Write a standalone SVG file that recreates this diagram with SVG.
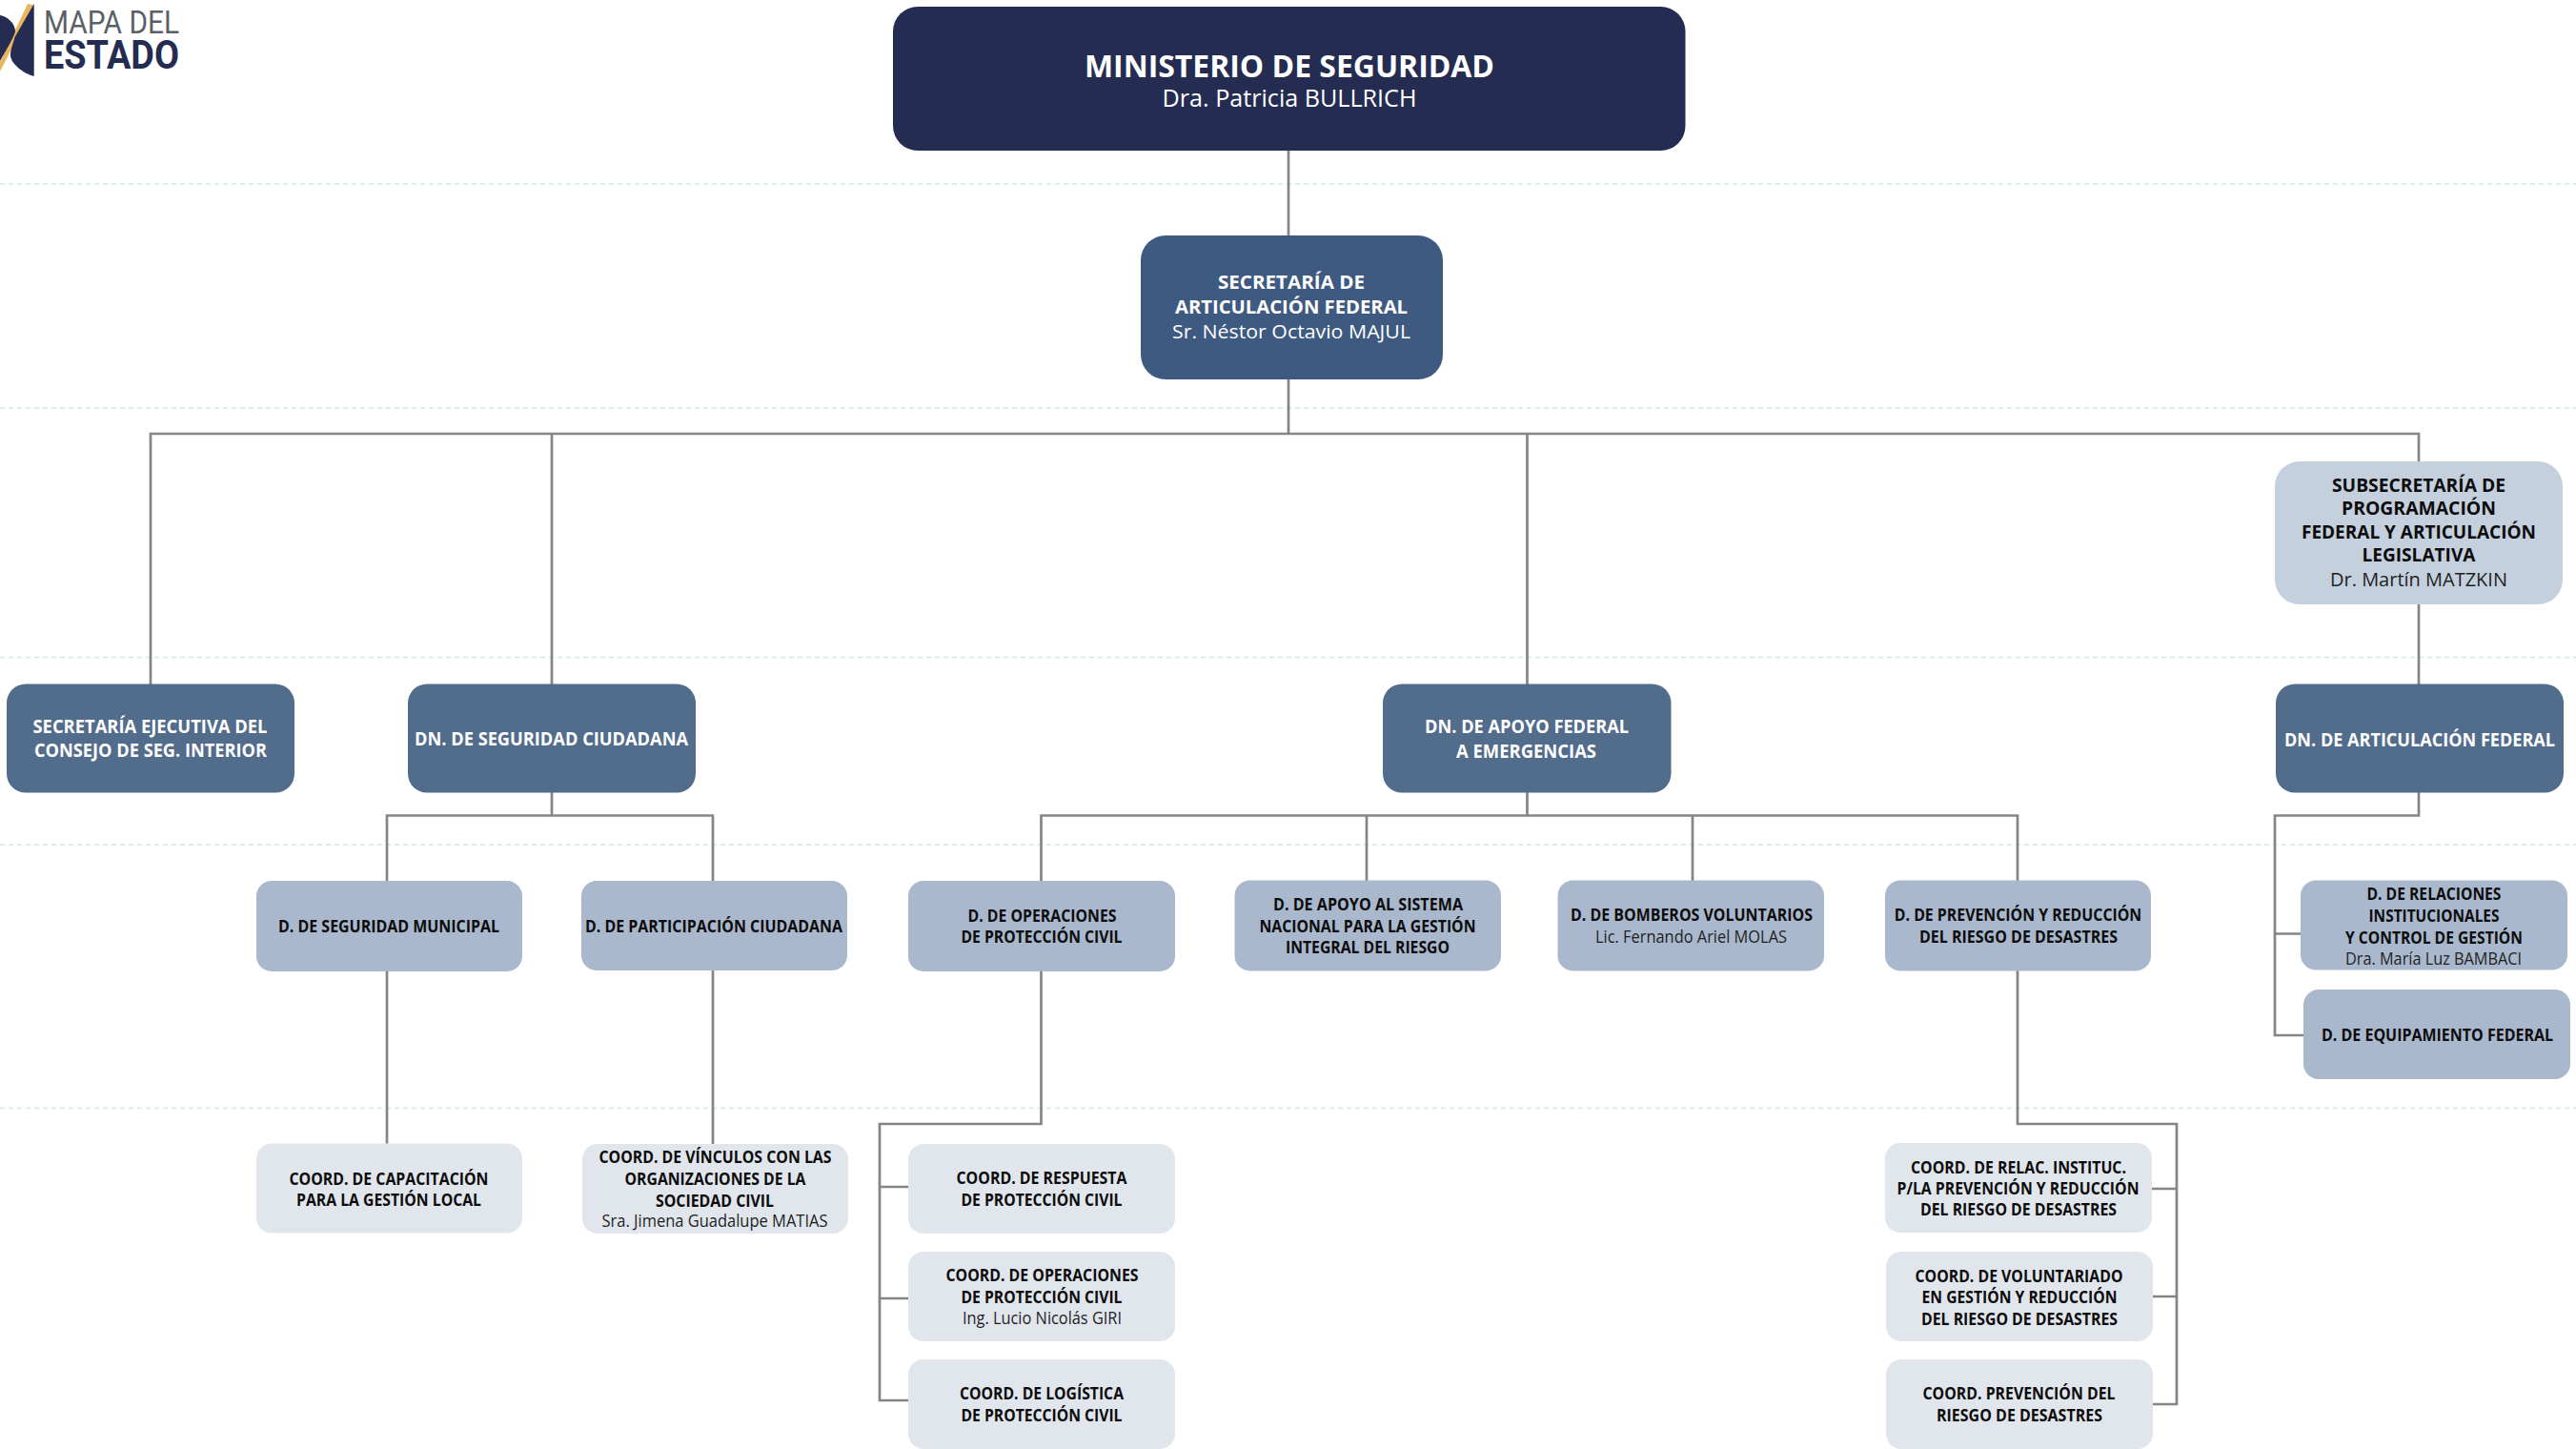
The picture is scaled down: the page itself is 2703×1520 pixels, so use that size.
<svg xmlns="http://www.w3.org/2000/svg" width="2703" height="1520" viewBox="0 0 2703 1520">
<style>
text{font-family:"Open Sans","Liberation Sans",sans-serif;text-anchor:middle}
.b{font-weight:700}
.lg{font-family:Roboto,"Liberation Sans",sans-serif;text-anchor:start}
.w{fill:#fff}.k{fill:#0c0c0c}.g{fill:#1f1f1f}
.s20{font-size:20px}.s18{font-size:18px}.s17{font-size:17.500px}
.guide{stroke:#cbeaea;stroke-width:1.5;stroke-dasharray:5 4;fill:none}
#connectors path{fill:none;stroke:#858585;stroke-width:2.700}
.n1{fill:#242c51}.n2{fill:#3e5a80}.n3{fill:#526c8c}.n4{fill:#a9b8cc}.n5{fill:#e1e6ed}.n6{fill:#c5d0de}
</style>
<rect width="2703" height="1520" fill="#fff"/>
<g id="guides">
<path class="guide" d="M0 193H2703M0 428H2703M0 689.500H2703M0 886H2703M0 1162.500H2703"/>
</g>
<g id="logo">
<path d="M29 4L35.700 5.500L0 75V65Z" fill="#e9b65e"/>
<path d="M35.700 4V80C24 77 11 66 11 58C11 52 13 48 15.500 39Z" fill="#242c51"/>
<path d="M0 16C8 17 16 25 16 33C15 38 8 50 0 64Z" fill="#242c51"/>
<text class="lg" x="46" y="35" font-size="33" fill="#5a5f68" textLength="142" lengthAdjust="spacingAndGlyphs">MAPA DEL</text>
<text class="lg" x="46" y="72" font-size="42" font-weight="700" fill="#242c51" textLength="142" lengthAdjust="spacingAndGlyphs">ESTADO</text>
</g>
<g id="connectors">
<path d="M1352 158V247M1352 398V454"/>
<path d="M158 718V455H2538V484M579 455V718M1602.500 455V718M2538 634V718"/>
<path d="M579 831V855.500M406 924V855.500H749M748 855.500V924"/>
<path d="M406 1019V1200M748 1018V1200"/>
<path d="M1602.500 831V855.500M1092.500 924V855.500H2117V924M1434 855.500V924M1776 855.500V924"/>
<path d="M1092.500 1019V1179H923V1469H953M923 1245H953M923 1362H953"/>
<path d="M2117 1018V1179H2284V1473H2259M2258 1247H2284M2259 1360H2284"/>
<path d="M2538 831V855.500H2387V1086H2417M2387 979.500H2414"/>
</g>
<g id="n-ministerio"><rect class="n1" x="937" y="7" width="831.500" height="151" rx="26"/>
<text class="w b" x="1353" y="81" font-size="33" textLength="430" lengthAdjust="spacingAndGlyphs">MINISTERIO DE SEGURIDAD</text>
<text class="w" x="1353" y="112" font-size="25" textLength="267" lengthAdjust="spacingAndGlyphs">Dra. Patricia BULLRICH</text></g>
<g id="n-secretaria"><rect class="n2" x="1197" y="247" width="317" height="151" rx="26"/>
<text class="w b s20" x="1355" y="303" textLength="154" lengthAdjust="spacingAndGlyphs">SECRETARÍA DE</text>
<text class="w b s20" x="1355" y="329" textLength="244" lengthAdjust="spacingAndGlyphs">ARTICULACIÓN FEDERAL</text>
<text class="w s20" x="1355" y="355" textLength="250" lengthAdjust="spacingAndGlyphs">Sr. Néstor Octavio MAJUL</text></g>
<g id="n-subsecretaria"><rect class="n6" x="2387" y="484" width="302" height="150" rx="26"/>
<text class="k b s20" x="2538" y="516" textLength="182" lengthAdjust="spacingAndGlyphs">SUBSECRETARÍA DE</text>
<text class="k b s20" x="2538" y="540" textLength="162" lengthAdjust="spacingAndGlyphs">PROGRAMACIÓN</text>
<text class="k b s20" x="2538" y="565" textLength="246" lengthAdjust="spacingAndGlyphs">FEDERAL Y ARTICULACIÓN</text>
<text class="k b s20" x="2538" y="589" textLength="119" lengthAdjust="spacingAndGlyphs">LEGISLATIVA</text>
<text class="g s20" x="2538" y="614.500" textLength="186" lengthAdjust="spacingAndGlyphs">Dr. Martín MATZKIN</text></g>
<g id="n-sec-ejecutiva"><rect class="n3" x="7" y="717.500" width="302" height="114" rx="20"/>
<text class="w b s20" x="157.500" y="769" textLength="246" lengthAdjust="spacingAndGlyphs">SECRETARÍA EJECUTIVA DEL</text>
<text class="w b s20" x="158" y="794" textLength="244" lengthAdjust="spacingAndGlyphs">CONSEJO DE SEG. INTERIOR</text></g>
<g id="n-dn-seguridad"><rect class="n3" x="428" y="717.500" width="302" height="114" rx="20"/>
<text class="w b s20" x="578.500" y="782" textLength="287" lengthAdjust="spacingAndGlyphs">DN. DE SEGURIDAD CIUDADANA</text></g>
<g id="n-dn-apoyo"><rect class="n3" x="1451" y="717.500" width="302.500" height="114" rx="20"/>
<text class="w b s20" x="1602" y="769" textLength="214" lengthAdjust="spacingAndGlyphs">DN. DE APOYO FEDERAL</text>
<text class="w b s20" x="1601.500" y="795" textLength="147" lengthAdjust="spacingAndGlyphs">A EMERGENCIAS</text></g>
<g id="n-dn-articulacion"><rect class="n3" x="2388" y="717.500" width="302" height="114" rx="20"/>
<text class="w b s20" x="2539" y="782.500" textLength="284" lengthAdjust="spacingAndGlyphs">DN. DE ARTICULACIÓN FEDERAL</text></g>
<g id="n-d-municipal"><rect class="n4" x="269" y="924" width="279" height="95" rx="16"/>
<text class="k b s17" x="408" y="978" textLength="232" lengthAdjust="spacingAndGlyphs">D. DE SEGURIDAD MUNICIPAL</text></g>
<g id="n-d-participacion"><rect class="n4" x="610" y="924" width="279" height="94" rx="16"/>
<text class="k b s17" x="749" y="978" textLength="270" lengthAdjust="spacingAndGlyphs">D. DE PARTICIPACIÓN CIUDADANA</text></g>
<g id="n-d-operaciones"><rect class="n4" x="953" y="924" width="280" height="95" rx="16"/>
<text class="k b s17" x="1093.500" y="967" textLength="156" lengthAdjust="spacingAndGlyphs">D. DE OPERACIONES</text>
<text class="k b s17" x="1093" y="989" textLength="169" lengthAdjust="spacingAndGlyphs">DE PROTECCIÓN CIVIL</text></g>
<g id="n-d-sistema"><rect class="n4" x="1295.500" y="923.500" width="279.500" height="95" rx="16"/>
<text class="k b s17" x="1435.500" y="955" textLength="199" lengthAdjust="spacingAndGlyphs">D. DE APOYO AL SISTEMA</text>
<text class="k b s17" x="1435" y="978" textLength="227" lengthAdjust="spacingAndGlyphs">NACIONAL PARA LA GESTIÓN</text>
<text class="k b s17" x="1435" y="1000" textLength="172" lengthAdjust="spacingAndGlyphs">INTEGRAL DEL RIESGO</text></g>
<g id="n-d-bomberos"><rect class="n4" x="1634.500" y="923.500" width="279.500" height="95" rx="16"/>
<text class="k b s17" x="1775" y="966" textLength="254" lengthAdjust="spacingAndGlyphs">D. DE BOMBEROS VOLUNTARIOS</text>
<text class="g s18" x="1774.500" y="989" textLength="201" lengthAdjust="spacingAndGlyphs">Lic. Fernando Ariel MOLAS</text></g>
<g id="n-d-prevencion"><rect class="n4" x="1978" y="923.500" width="279" height="95" rx="16"/>
<text class="k b s17" x="2117.500" y="966" textLength="259.500" lengthAdjust="spacingAndGlyphs">D. DE PREVENCIÓN Y REDUCCIÓN</text>
<text class="k b s17" x="2118" y="989" textLength="208" lengthAdjust="spacingAndGlyphs">DEL RIESGO DE DESASTRES</text></g>
<g id="n-d-relaciones"><rect class="n4" x="2414" y="923.500" width="280" height="94" rx="16"/>
<text class="k b s17" x="2554" y="944" textLength="141" lengthAdjust="spacingAndGlyphs">D. DE RELACIONES</text>
<text class="k b s17" x="2554" y="966.500" textLength="137" lengthAdjust="spacingAndGlyphs">INSTITUCIONALES</text>
<text class="k b s17" x="2554" y="989.500" textLength="186" lengthAdjust="spacingAndGlyphs">Y CONTROL DE GESTIÓN</text>
<text class="g s17" x="2553.500" y="1011.500" textLength="185" lengthAdjust="spacingAndGlyphs">Dra. María Luz BAMBACI</text></g>
<g id="n-d-equipamiento"><rect class="n4" x="2417" y="1038" width="280" height="94" rx="16"/>
<text class="k b s17" x="2557.500" y="1092" textLength="243" lengthAdjust="spacingAndGlyphs">D. DE EQUIPAMIENTO FEDERAL</text></g>
<g id="n-c-capacitacion"><rect class="n5" x="269" y="1199.500" width="279" height="94" rx="16"/>
<text class="k b s17" x="408" y="1243" textLength="209" lengthAdjust="spacingAndGlyphs">COORD. DE CAPACITACIÓN</text>
<text class="k b s17" x="408" y="1264.500" textLength="194" lengthAdjust="spacingAndGlyphs">PARA LA GESTIÓN LOCAL</text></g>
<g id="n-c-vinculos"><rect class="n5" x="611" y="1200" width="279" height="94" rx="16"/>
<text class="k b s17" x="750.500" y="1220" textLength="244" lengthAdjust="spacingAndGlyphs">COORD. DE VÍNCULOS CON LAS</text>
<text class="k b s17" x="750.500" y="1243" textLength="190" lengthAdjust="spacingAndGlyphs">ORGANIZACIONES DE LA</text>
<text class="k b s17" x="750" y="1265.500" textLength="124" lengthAdjust="spacingAndGlyphs">SOCIEDAD CIVIL</text>
<text class="g s17" x="750" y="1287" textLength="237" lengthAdjust="spacingAndGlyphs">Sra. Jimena Guadalupe MATIAS</text></g>
<g id="n-c-respuesta"><rect class="n5" x="953" y="1200" width="280" height="94" rx="16"/>
<text class="k b s17" x="1093" y="1242" textLength="179" lengthAdjust="spacingAndGlyphs">COORD. DE RESPUESTA</text>
<text class="k b s17" x="1093" y="1265" textLength="169" lengthAdjust="spacingAndGlyphs">DE PROTECCIÓN CIVIL</text></g>
<g id="n-c-operaciones"><rect class="n5" x="953" y="1313" width="280" height="94" rx="16"/>
<text class="k b s17" x="1093.500" y="1344" textLength="202" lengthAdjust="spacingAndGlyphs">COORD. DE OPERACIONES</text>
<text class="k b s17" x="1093" y="1367" textLength="169" lengthAdjust="spacingAndGlyphs">DE PROTECCIÓN CIVIL</text>
<text class="g s18" x="1093.500" y="1389" textLength="167" lengthAdjust="spacingAndGlyphs">Ing. Lucio Nicolás GIRI</text></g>
<g id="n-c-logistica"><rect class="n5" x="953" y="1426" width="280" height="94" rx="16"/>
<text class="k b s17" x="1093" y="1468" textLength="172" lengthAdjust="spacingAndGlyphs">COORD. DE LOGÍSTICA</text>
<text class="k b s17" x="1093" y="1490.500" textLength="169" lengthAdjust="spacingAndGlyphs">DE PROTECCIÓN CIVIL</text></g>
<g id="n-c-relac"><rect class="n5" x="1978" y="1199" width="280" height="94" rx="16"/>
<text class="k b s17" x="2118" y="1231" textLength="226" lengthAdjust="spacingAndGlyphs">COORD. DE RELAC. INSTITUC.</text>
<text class="k b s17" x="2117.500" y="1253" textLength="254" lengthAdjust="spacingAndGlyphs">P/LA PREVENCIÓN Y REDUCCIÓN</text>
<text class="k b s17" x="2118" y="1275" textLength="206" lengthAdjust="spacingAndGlyphs">DEL RIESGO DE DESASTRES</text></g>
<g id="n-c-voluntariado"><rect class="n5" x="1979" y="1313" width="280" height="94" rx="16"/>
<text class="k b s17" x="2118.500" y="1345" textLength="218" lengthAdjust="spacingAndGlyphs">COORD. DE VOLUNTARIADO</text>
<text class="k b s17" x="2119" y="1367" textLength="205" lengthAdjust="spacingAndGlyphs">EN GESTIÓN Y REDUCCIÓN</text>
<text class="k b s17" x="2119" y="1390" textLength="206" lengthAdjust="spacingAndGlyphs">DEL RIESGO DE DESASTRES</text></g>
<g id="n-c-prevencion"><rect class="n5" x="1979" y="1426" width="280" height="94" rx="16"/>
<text class="k b s17" x="2118.500" y="1468" textLength="202" lengthAdjust="spacingAndGlyphs">COORD. PREVENCIÓN DEL</text>
<text class="k b s17" x="2119" y="1490.500" textLength="174" lengthAdjust="spacingAndGlyphs">RIESGO DE DESASTRES</text></g>
</svg>
